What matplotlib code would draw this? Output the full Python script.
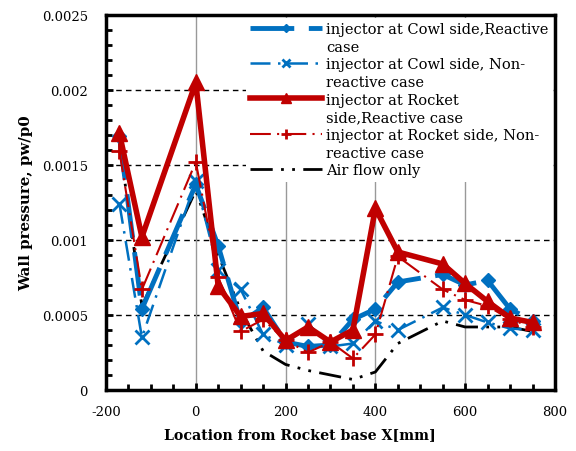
import numpy as np
import matplotlib
matplotlib.use('Agg')
import matplotlib.pyplot as plt
from matplotlib.lines import Line2D
from matplotlib.ticker import MultipleLocator, FuncFormatter

plt.rcParams['font.family'] = ['DejaVu Serif']
plt.rcParams['axes.unicode_minus'] = False

# measurement stations along the wall [mm]
x_pos = [-170, -120, 0, 50, 100, 150, 200, 250, 300, 350, 400, 450, 550, 600, 650, 700, 750]

# wall pressure pw/p0 for each case
cowl_reactive = [0.00169, 0.00054, 0.00137, 0.00096, 0.00045, 0.00055, 0.00032, 0.00029,
                 0.00030, 0.00047, 0.00054, 0.00072, 0.00077, 0.00070, 0.00073, 0.00054, 0.00046]
cowl_nonreactive = [0.00124, 0.00035, 0.00139, 0.00080, 0.00067, 0.00037, 0.00030, 0.00044,
                    0.00029, 0.00031, 0.00046, 0.00040, 0.00055, 0.00050, 0.00045, 0.00041, 0.00040]
rocket_reactive = [0.00171, 0.00102, 0.00205, 0.00069, 0.00049, 0.00051, 0.00033, 0.00042,
                   0.00032, 0.00040, 0.00121, 0.00092, 0.00084, 0.00071, 0.00059, 0.00048, 0.00045]
rocket_nonreactive = [0.00159, 0.00067, 0.00152, 0.00075, 0.00039, 0.00047, 0.00033, 0.00025,
                      0.00032, 0.00021, 0.00037, 0.00089, 0.00067, 0.00060, 0.00056, 0.00047, 0.00042]
air_only = [0.00165, 0.00056, 0.00133, 0.00090, 0.00053, 0.00026, 0.00017, 0.00013,
            0.00010, 0.00007, 0.00012, 0.00031, 0.00046, 0.00042, 0.00042, 0.00042, 0.00039]

# legend text, one list per entry (second item wraps onto the next row)
labels = [['injector at Cowl side,Reactive', 'case'],
          ['injector at Cowl side, Non-', 'reactive case'],
          ['injector at Rocket', 'side,Reactive case'],
          ['injector at Rocket side, Non-', 'reactive case'],
          ['Air flow only']]

BLUE = '#0070C0'
RED = '#C00000'

fig = plt.figure(figsize=(5.76, 4.52), dpi=100)
ax = fig.add_axes([0.184, 0.135, 0.7795, 0.8296])

# grid: dashed horizontal, grey vertical
for yv in [0.0005, 0.001, 0.0015, 0.002]:
    ax.axhline(yv, color='black', lw=1.0, ls=(0, (4, 3)), zorder=1)
for xv in [0, 200, 400, 600]:
    ax.axvline(xv, color='#999999', lw=1.0, zorder=1)

lines = []
lines += ax.plot(x_pos, cowl_reactive, color=BLUE, lw=3.5, dashes=(9, 3),
                 marker='D', ms=7, zorder=4)
lines += ax.plot(x_pos, cowl_nonreactive, color=BLUE, lw=1.8, dashes=(8, 3, 1, 3),
                 marker='x', ms=10, mew=2, zorder=3)
lines += ax.plot(x_pos, rocket_reactive, color=RED, lw=4, marker='^', ms=12, zorder=5)
lines += ax.plot(x_pos, rocket_nonreactive, color=RED, lw=1.5, dashes=(10, 3, 1, 3),
                 marker='+', ms=12, mew=2, zorder=4)
lines += ax.plot(x_pos, air_only, color='black', lw=2, dashes=(8, 3, 1, 3, 1, 3), zorder=2)

ax.set_xlim(-200, 800)
ax.set_ylim(0, 0.0025)
ax.xaxis.set_major_locator(MultipleLocator(200))
ax.xaxis.set_minor_locator(MultipleLocator(50))
ax.yaxis.set_major_locator(MultipleLocator(0.0005))
ax.yaxis.set_minor_locator(MultipleLocator(0.0001))
ax.xaxis.set_major_formatter(FuncFormatter(lambda v, p: '%d' % round(v)))
ax.yaxis.set_major_formatter(FuncFormatter(lambda v, p: '%g' % round(v, 5)))
ax.tick_params(which='both', direction='in', width=2, labelsize=9.5, colors='black')
ax.tick_params(which='major', length=5)
ax.tick_params(which='minor', length=4)
ax.tick_params(axis='x', which='major', pad=11)
ax.tick_params(axis='y', which='major', pad=13)
for s in ax.spines.values():
    s.set_linewidth(2.5)

ax.set_xlabel('Location from Rocket base X[mm]', fontsize=10.2, fontweight='bold')
ax.xaxis.set_label_coords(0.432, -0.1)
ax.set_ylabel('Wall pressure, pw/p0', fontsize=10.8, fontweight='bold')
ax.yaxis.set_label_coords(-0.163, 0.5)

# one legend row per text line, handle drawn on the first row of each entry
blank = Line2D([], [], color='none')
handles, texts = [], []
for ln, lab in zip(lines, labels):
    handles.append(ln)
    texts.append(lab[0])
    for extra in lab[1:]:
        handles.append(blank)
        texts.append(extra)

leg = ax.legend(handles, texts, loc='upper right', bbox_to_anchor=(0.995, 0.993),
                fontsize=10.5, handlelength=4.9, handletextpad=0.3, labelspacing=0.25,
                borderaxespad=0, borderpad=0.3, frameon=True, fancybox=False,
                numpoints=1, markerscale=0.6)
leg.get_frame().set_edgecolor('none')
leg.get_frame().set_facecolor('white')
leg.get_frame().set_alpha(1)
leg.set_zorder(10)

fig.savefig('out.png', dpi=100)
